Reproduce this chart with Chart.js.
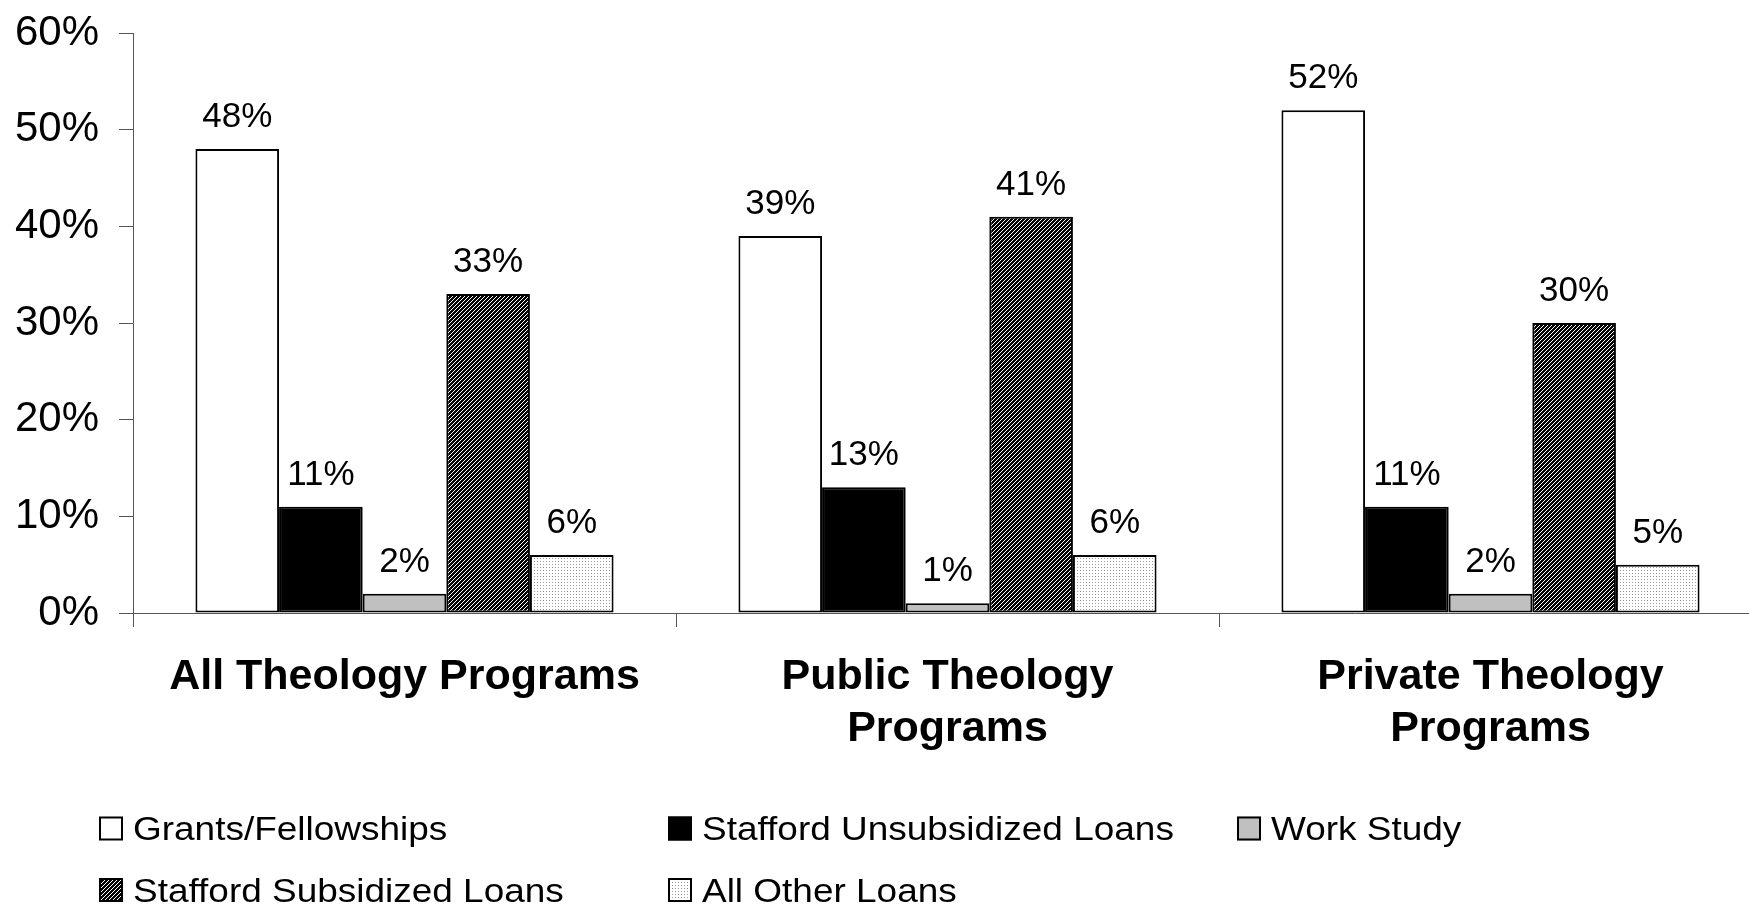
<!DOCTYPE html>
<html>
<head>
<meta charset="utf-8">
<title>Financial aid by type, theology programs</title>
<script src="https://cdn.jsdelivr.net/npm/chart.js@4.4.1/dist/chart.umd.min.js"></script>
<style>
  html, body { margin: 0; padding: 0; background: #ffffff; overflow: hidden; }
  #wrap { position: relative; width: 1762px; height: 906px; }
</style>
</head>
<body>
<div id="wrap"><canvas id="chart"></canvas></div>
<script>
// Program groups along the x axis (multi-line labels as arrays)
const categories = [
  'All Theology Programs',
  ['Public Theology', 'Programs'],
  ['Private Theology', 'Programs']
];

// Aid types (series names)
const seriesNames = [
  'Grants/Fellowships',
  'Stafford Unsubsidized Loans',
  'Work Study',
  'Stafford Subsidized Loans',
  'All Other Loans'
];

// Share of students receiving each kind of aid, in percent
const grantsFellowships = [48, 39, 52];
const staffordUnsubsidized = [11, 13, 11];
const workStudy = [2, 1, 2];
const staffordSubsidized = [33, 41, 30];
const allOtherLoans = [6, 6, 5];

// Value axis ticks
const yMin = 0;
const yMax = 60;
const yStep = 10;

const FONT = '"Liberation Sans", Arial, Helvetica, sans-serif';

// Dense black/white diagonal hatch
function makeHatch() {
  const t = document.createElement('canvas');
  t.width = 4; t.height = 4;
  const g = t.getContext('2d');
  const img = g.createImageData(4, 4);
  for (let y = 0; y < 4; y++) {
    for (let x = 0; x < 4; x++) {
      const i = (y * 4 + x) * 4;
      const v = ((x + y) % 4 === 0) ? 255 : 0;
      img.data[i] = v; img.data[i + 1] = v; img.data[i + 2] = v; img.data[i + 3] = 255;
    }
  }
  g.putImageData(img, 0, 0);
  return g.createPattern(t, 'repeat');
}

// Fine grey dots on white
function makeDots() {
  const t = document.createElement('canvas');
  t.width = 3; t.height = 3;
  const g = t.getContext('2d');
  g.fillStyle = '#ffffff';
  g.fillRect(0, 0, 3, 3);
  g.fillStyle = '#9a9a9a';
  g.fillRect(0, 0, 1, 1);
  return g.createPattern(t, 'repeat');
}

const fills = ['#ffffff', '#000000', '#c0c0c0', makeHatch(), makeDots()];
const seriesValues = [grantsFellowships, staffordUnsubsidized, workStudy, staffordSubsidized, allOtherLoans];

const datasets = seriesNames.map((name, i) => ({
  label: name,
  data: seriesValues[i],
  backgroundColor: fills[i],
  borderColor: '#000000',
  borderWidth: 2,
  borderSkipped: false,
  barPercentage: 1.0,
  categoryPercentage: 0.77
}));

// Value labels above each bar
const barValueLabels = {
  id: 'barValueLabels',
  afterDatasetsDraw(chart, args, opts) {
    const ctx = chart.ctx;
    ctx.save();
    ctx.font = opts.size + 'px ' + FONT;
    ctx.fillStyle = '#000000';
    ctx.textAlign = 'center';
    ctx.textBaseline = 'alphabetic';
    chart.data.datasets.forEach((ds, di) => {
      const meta = chart.getDatasetMeta(di);
      meta.data.forEach((bar, j) => {
        ctx.fillText(ds.data[j] + '%', bar.x, bar.y - opts.gap);
      });
    });
    ctx.restore();
  }
};

// Legend laid out as a fixed grid of columns below the axis
const gridLegend = {
  id: 'gridLegend',
  afterDraw(chart, args, opts) {
    const ctx = chart.ctx;
    const cap = opts.size * 0.716;
    chart.data.datasets.forEach((ds, i) => {
      const col = i % opts.columns;
      const row = Math.floor(i / opts.columns);
      const x = opts.left + col * opts.colWidth;
      const cy = opts.top + row * opts.rowHeight;
      ctx.save();
      ctx.fillStyle = ds.backgroundColor;
      ctx.fillRect(x, cy - opts.box / 2, opts.box, opts.box);
      ctx.lineWidth = 2;
      ctx.strokeStyle = '#000000';
      ctx.strokeRect(x + 1, cy - opts.box / 2 + 1, opts.box - 2, opts.box - 2);
      ctx.font = opts.size + 'px ' + FONT;
      ctx.fillStyle = '#000000';
      ctx.textAlign = 'left';
      ctx.textBaseline = 'alphabetic';
      ctx.translate(x + opts.textGap, cy + cap / 2);
      ctx.scale(opts.stretch, 1);
      ctx.fillText(ds.label, 0, 0);
      ctx.restore();
    });
  }
};

new Chart(document.getElementById('chart'), {
  type: 'bar',
  data: { labels: categories, datasets },
  plugins: [barValueLabels, gridLegend],
  options: {
    responsive: true,
    maintainAspectRatio: false,
    animation: false,
    events: [],
    layout: { padding: { top: 33, left: 0, right: 0, bottom: 0 } },
    plugins: {
      legend: { display: false },
      tooltip: { enabled: false },
      title: { display: false },
      barValueLabels: { size: 35, gap: 22 },
      gridLegend: {
        left: 99, top: 828.5, colWidth: 569, rowHeight: 61.5, columns: 3,
        box: 24, textGap: 34, size: 33, stretch: 1.12
      }
    },
    scales: {
      x: {
        offset: true,
        grid: {
          offset: true,
          display: true,
          drawOnChartArea: false,
          drawTicks: true,
          tickLength: 14,
          color: '#555555',
          lineWidth: 1
        },
        border: { display: true, color: '#555555', width: 1 },
        ticks: {
          color: '#000000',
          font: { family: FONT, size: 43, weight: 'bold', lineHeight: 1.19 },
          padding: 25,
          maxRotation: 0,
          autoSkip: false
        },
        afterFit(scale) {
          scale.height = 293;
          scale.paddingLeft = 0;
          scale.paddingRight = 0;
        }
      },
      y: {
        min: yMin,
        max: yMax,
        grid: {
          display: true,
          drawOnChartArea: false,
          drawTicks: true,
          tickLength: 14,
          color: '#555555',
          lineWidth: 1
        },
        border: { display: true, color: '#555555', width: 1 },
        ticks: {
          stepSize: yStep,
          color: '#000000',
          font: { family: FONT, size: 42 },
          padding: 20,
          callback: (v) => v + '%'
        },
        afterFit(scale) {
          scale.width = 133;
          scale.paddingTop = 0;
          scale.paddingBottom = 0;
        }
      }
    }
  }
});
</script>
</body>
</html>
